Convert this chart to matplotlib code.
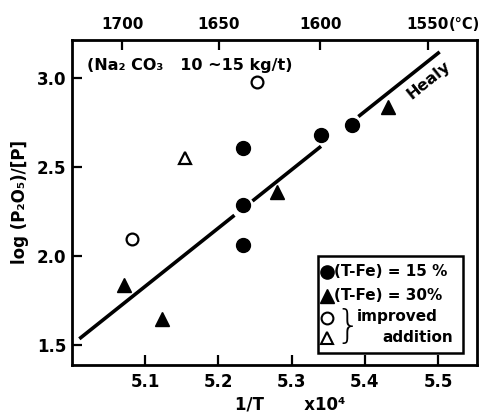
import numpy as np
import matplotlib
matplotlib.use("Agg")
import matplotlib.pyplot as plt
from matplotlib.patches import Rectangle

plt.rcParams['font.family'] = ['DejaVu Sans']
plt.rcParams['font.weight'] = 'bold'

# ---- data ----
fe15_x = [5.233, 5.233, 5.233, 5.340, 5.382]
fe15_y = [2.606, 2.289, 2.063, 2.678, 2.735]

fe30_x = [5.071, 5.123, 5.280, 5.431]
fe30_y = [1.840, 1.645, 2.360, 2.835]

imp_circ_x = [5.082, 5.253]
imp_circ_y = [2.094, 2.975]

imp_tri_x = [5.154]
imp_tri_y = [2.550]

# Healy line (drawn with breaks, as in the original)
healy_x = [5.010, 5.2218, np.nan, 5.2464, 5.340, np.nan, 5.391, 5.502]
healy_y = [1.535, 2.229, np.nan, 2.309, 2.616, np.nan, 2.783, 3.146]

xticks = [5.1, 5.2, 5.3, 5.4, 5.5]
yticks = [1.5, 2.0, 2.5, 3.0]
top_ticks_c = [1700, 1650, 1600, 1550]
top_labels = ['1700', '1650', '1600', '1550']

W, H = 485, 418
L, R, T, B = 72, 477, 40, 365

fig = plt.figure(figsize=(W/100, H/100), dpi=100)
ax = fig.add_axes([L/W, (H-B)/H, (R-L)/W, (B-T)/H])

ax.plot(healy_x, healy_y, color='black', lw=2.6, solid_capstyle='butt', zorder=2)
ax.plot(fe15_x, fe15_y, 'o', color='black', ms=10, zorder=3, ls='none')
ax.plot(fe30_x, fe30_y, '^', color='black', ms=10, zorder=3, ls='none')
ax.plot(imp_circ_x, imp_circ_y, 'o', mfc='white', mec='black', mew=1.6, ms=8.5, zorder=3, ls='none')
ax.plot(imp_tri_x, imp_tri_y, '^', mfc='white', mec='black', mew=1.6, ms=9, zorder=3, ls='none')

ax.set_xlim(5.0, 5.553)
ax.set_ylim(1.388, 3.213)
ax.set_xticks(xticks)
ax.set_xticklabels(['5.1', '5.2', '5.3', '5.4', '5.5'])
ax.set_yticks(yticks)
ax.set_yticklabels(['1.5', '2.0', '2.5', '3.0'])
ax.tick_params(direction='in', length=7, width=1.6, labelsize=12, pad=6)
ax.tick_params(axis='y', pad=4)
for s in ax.spines.values():
    s.set_linewidth(2.0)

def fwd(x):
    x = np.asarray(x, dtype=float)
    with np.errstate(divide='ignore', invalid='ignore'):
        return 1e4 / x - 273.0

def inv(c):
    c = np.asarray(c, dtype=float)
    with np.errstate(divide='ignore', invalid='ignore'):
        return 1e4 / (c + 273.0)

TOPPAD = 6
sec = ax.secondary_xaxis('top', functions=(fwd, inv))
sec.set_xticks(top_ticks_c)
sec.set_xticklabels(top_labels)
sec.tick_params(direction='in', length=7, width=1.6, labelsize=11, pad=TOPPAD)
ax.text((449-L)/(R-L), 1.0 + TOPPAD*1.389/(B-T), '(°C)', transform=ax.transAxes,
        fontsize=10.5, fontweight='bold', ha='left', va='bottom')

ax.set_ylabel('log (P₂O₅)/[P]', fontsize=12, fontweight='bold', labelpad=6)
ax.set_xlabel('1/T       x10⁴', fontsize=12, fontweight='bold', labelpad=3)
ax.xaxis.label.set_x((290-L)/(R-L))

ax.text(5.02, 3.072, '(Na₂ CO₃   10 ~15 kg/t)', fontsize=11.5, fontweight='bold',
        ha='left', va='center')
ax.text(5.487, 2.99, 'Healy', fontsize=11.5, fontweight='bold', rotation=38.8,
        ha='center', va='center', rotation_mode='anchor')

# legend box (manual)
def ay(py):
    return (B-py)/(B-T)
def axx(px):
    return (px-L)/(R-L)
x0, x1 = axx(317.7), axx(462.7)
y0, y1 = ay(353), ay(256)
ax.add_patch(Rectangle((x0, y0), x1-x0, y1-y0, transform=ax.transAxes,
                       fill=True, facecolor='white', edgecolor='black', lw=1.8, zorder=5))
mx = axx(327)
ax.plot([mx], [ay(271.5)], 'o', color='black', ms=9.5, transform=ax.transAxes, zorder=6, clip_on=False)
ax.plot([mx], [ay(296)], '^', color='black', ms=9.5, transform=ax.transAxes, zorder=6, clip_on=False)
ax.plot([mx], [ay(318)], 'o', mfc='white', mec='black', mew=1.5, ms=8.5, transform=ax.transAxes, zorder=6, clip_on=False)
ax.plot([mx], [ay(338)], '^', mfc='white', mec='black', mew=1.5, ms=9, transform=ax.transAxes, zorder=6, clip_on=False)
ax.text(axx(334), ay(271.5), '(T-Fe) = 15 %', transform=ax.transAxes, fontsize=11,
        fontweight='bold', va='center', ha='left', zorder=6)
ax.text(axx(334), ay(296), '(T-Fe) = 30%', transform=ax.transAxes, fontsize=11,
        fontweight='bold', va='center', ha='left', zorder=6)
ax.text(axx(335), ay(327), '}', transform=ax.transAxes, fontsize=28,
        fontweight='light', va='center', ha='left', zorder=6)
ax.text(axx(357), ay(317), 'improved', transform=ax.transAxes, fontsize=11,
        fontweight='bold', va='center', ha='left', zorder=6)
ax.text(axx(382), ay(337), 'addition', transform=ax.transAxes, fontsize=11,
        fontweight='bold', va='center', ha='left', zorder=6)

fig.savefig('out.png', dpi=100)
